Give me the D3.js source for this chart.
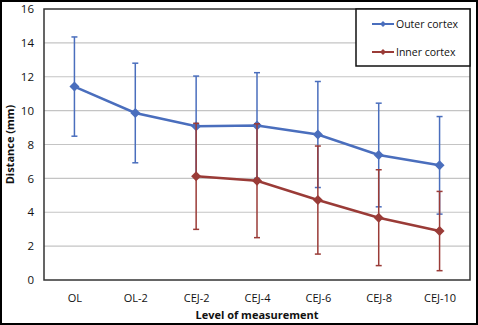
<!DOCTYPE html>
<html><head><meta charset="utf-8">
<script src="https://cdn.jsdelivr.net/npm/d3@7"></script>
<style>body{margin:0;background:#fff}svg{display:block}text{font-family:"Open Sans","Noto Sans",sans-serif}</style>
</head><body>
<svg id="c" width="478" height="325"></svg>
<script>
const categories = ["OL","OL-2","CEJ-2","CEJ-4","CEJ-6","CEJ-8","CEJ-10"];
const outerMean = [11.42, 9.86, 9.08, 9.12, 8.59, 7.38, 6.77];
const outerSD   = [2.93, 2.94, 2.96, 3.12, 3.13, 3.06, 2.88];
const innerCats = ["CEJ-2","CEJ-4","CEJ-6","CEJ-8","CEJ-10"];
const innerMean = [6.12, 5.86, 4.72, 3.68, 2.89];
const innerSD   = [3.13, 3.36, 3.19, 2.83, 2.34];
const yTicks = [0,2,4,6,8,10,12,14,16];

const svg = d3.select("#c");
const L=44, R=470, T=9, B=280;
const x = d3.scalePoint().domain(categories).range([L,R]).padding(0.5);
const y = d3.scaleLinear().domain([0,16]).range([B,T]);
const blue="#4a6ebd", red="#9a3b37";

svg.append("rect").attr("x",1).attr("y",1).attr("width",476).attr("height",323)
  .attr("fill","#fff").attr("stroke","#000").attr("stroke-width",2);

svg.append("g").selectAll("line").data(yTicks.filter(d=>d>0&&d<16)).join("line")
  .attr("x1",L).attr("x2",R).attr("y1",d=>y(d)).attr("y2",d=>y(d))
  .attr("stroke","#c4c4c4").attr("stroke-width",1.2);

const ya = d3.axisLeft(y).tickValues(yTicks).tickSize(0).tickPadding(10);
const gy = svg.append("g").attr("transform",`translate(${L},0)`).call(ya);
gy.select(".domain").remove();
gy.selectAll("text").attr("font-size",11.5).attr("fill","#111");

const xa = d3.axisBottom(x).tickSize(0).tickPadding(14);
const gx = svg.append("g").attr("transform",`translate(0,${B})`).call(xa);
gx.select(".domain").remove();
gx.selectAll("text").attr("font-size",11).attr("fill","#111");

svg.append("rect").attr("x",L).attr("y",T).attr("width",R-L).attr("height",B-T)
  .attr("fill","none").attr("stroke","#333").attr("stroke-width",1.5);

function series(cats, mean, sd, color){
  const g = svg.append("g");
  const d = cats.map((c,i)=>({c, m:mean[i], s:sd[i]}));
  g.selectAll("line.eb").data(d).join("line").attr("class","eb")
    .attr("x1",e=>x(e.c)).attr("x2",e=>x(e.c))
    .attr("y1",e=>y(e.m+e.s)).attr("y2",e=>y(e.m-e.s))
    .attr("stroke",color).attr("stroke-width",1.5);
  ["top","bot"].forEach(k=>{
    g.selectAll("line."+k).data(d).join("line").attr("class",k)
      .attr("x1",e=>x(e.c)-3).attr("x2",e=>x(e.c)+3)
      .attr("y1",e=>y(k==="top"?e.m+e.s:e.m-e.s)).attr("y2",e=>y(k==="top"?e.m+e.s:e.m-e.s))
      .attr("stroke",color).attr("stroke-width",1.5);
  });
  return {g,d};
}
function lineMarks(o,color){
  o.g.append("path").datum(o.d).attr("fill","none").attr("stroke",color).attr("stroke-width",2.5)
    .attr("d",d3.line().x(e=>x(e.c)).y(e=>y(e.m)));
  o.g.selectAll("path.mk").data(o.d).join("path").attr("class","mk")
    .attr("transform",e=>`translate(${x(e.c)},${y(e.m)})`)
    .attr("d","M0,-5L5,0L0,5L-5,0Z").attr("fill",color);
}
const so = series(categories, outerMean, outerSD, blue);
const si = series(innerCats, innerMean, innerSD, red);
lineMarks(si, red);
lineMarks(so, blue);

const lg = svg.append("g");
lg.append("rect").attr("x",356).attr("y",T).attr("width",R-356).attr("height",57)
  .attr("fill","#fff").attr("stroke","#111").attr("stroke-width",1.5);
[["Outer cortex",blue,24],["Inner cortex",red,52]].forEach(([t,c,yy])=>{
  lg.append("line").attr("x1",372).attr("x2",394).attr("y1",yy).attr("y2",yy).attr("stroke",c).attr("stroke-width",2);
  lg.append("path").attr("transform",`translate(383,${yy})`).attr("d","M0,-3L3,0L0,3L-3,0Z").attr("fill",c);
  lg.append("text").attr("x",396).attr("y",yy+4).attr("font-size",10.5).attr("fill","#111").text(t);
});

svg.append("text").attr("transform",`translate(14,${(T+B)/2}) rotate(-90)`).attr("text-anchor","middle")
  .attr("font-size",11).attr("font-weight","bold").attr("fill","#111").text("Distance (mm)");
svg.append("text").attr("x",(L+R)/2).attr("y",319).attr("text-anchor","middle")
  .attr("font-size",11).attr("font-weight","bold").attr("fill","#111").text("Level of measurement");
</script>
</body></html>
